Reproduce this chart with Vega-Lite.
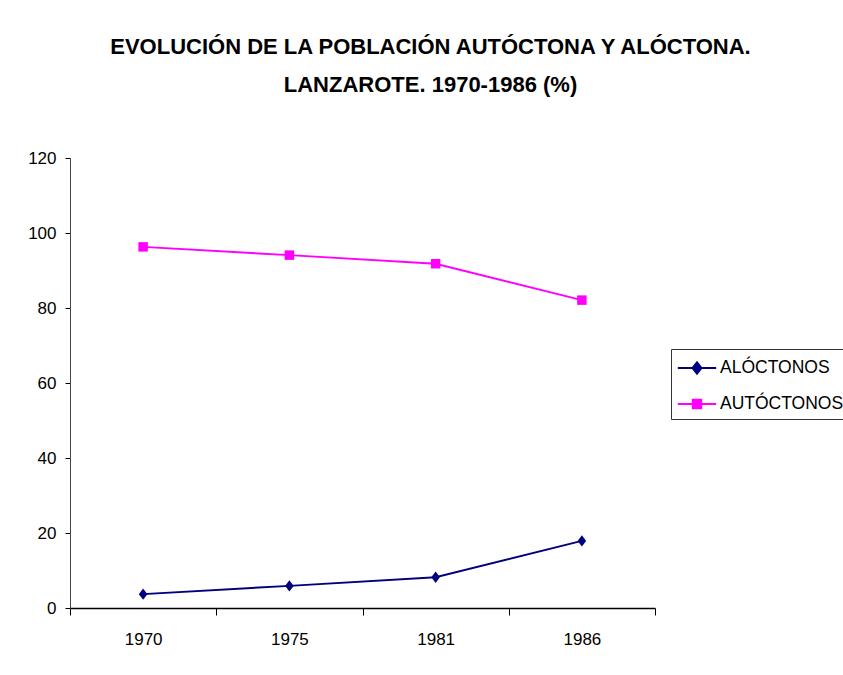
{
  "$schema": "https://vega.github.io/schema/vega-lite/v6.json",
  "autosize": {"type": "none"},
  "padding": {"left": 70, "top": 158, "right": 188, "bottom": 67},
  "width": 585,
  "height": 450,
  "background": "white",
  "title": {
    "text": ["EVOLUCIÓN DE LA POBLACIÓN AUTÓCTONA Y ALÓCTONA.", "LANZAROTE. 1970-1986 (%)"],
    "font": "Liberation Sans",
    "fontSize": 22,
    "fontWeight": "bold",
    "color": "black",
    "anchor": "middle",
    "dx": 68,
    "lineHeight": 38,
    "offset": 52
  },
  "data": {
    "values": [
      {"year": "1970", "serie": "ALÓCTONOS", "value": 3.7},
      {"year": "1975", "serie": "ALÓCTONOS", "value": 5.9},
      {"year": "1981", "serie": "ALÓCTONOS", "value": 8.2},
      {"year": "1986", "serie": "ALÓCTONOS", "value": 17.9},
      {"year": "1970", "serie": "AUTÓCTONOS", "value": 96.3},
      {"year": "1975", "serie": "AUTÓCTONOS", "value": 94.1},
      {"year": "1981", "serie": "AUTÓCTONOS", "value": 91.8},
      {"year": "1986", "serie": "AUTÓCTONOS", "value": 82.1}
    ]
  },
  "encoding": {
    "x": {
      "field": "year", "type": "ordinal",
      "scale": {"type": "band", "paddingInner": 0, "paddingOuter": 0},
      "axis": {
        "title": null, "labelAngle": 0, "tickBand": "extent",
        "labelFont": "Liberation Sans", "labelFontSize": 17, "labelColor": "black",
        "domainColor": "black", "domainWidth": 1.5, "tickColor": "black", "tickSize": 7, "tickWidth": 1,
        "labelPadding": 16, "grid": false
      }
    },
    "y": {
      "field": "value", "type": "quantitative",
      "scale": {"domain": [0, 120], "nice": false},
      "axis": {
        "title": null, "values": [0, 20, 40, 60, 80, 100, 120],
        "labelFont": "Liberation Sans", "labelFontSize": 17, "labelColor": "black",
        "domainColor": "#444", "domainWidth": 1, "tickColor": "black", "tickSize": 5,
        "labelPadding": 9, "grid": false
      }
    }
  },
  "layer": [
    {
      "mark": {"type": "line", "strokeWidth": 2},
      "encoding": {
        "stroke": {
          "field": "serie", "type": "nominal",
          "scale": {"domain": ["ALÓCTONOS", "AUTÓCTONOS"], "range": ["#000080", "#FF00FF"]},
          "legend": null
        }
      }
    },
    {
      "mark": {"type": "point", "filled": false, "opacity": 1, "strokeWidth": 2},
      "encoding": {
        "size": {"value": 1},
        "color": {
          "field": "serie", "type": "nominal",
          "scale": {"domain": ["ALÓCTONOS", "AUTÓCTONOS"], "range": ["#000080", "#FF00FF"]},
          "legend": {
            "title": null, "orient": "none", "legendX": 601, "legendY": 191,
            "strokeColor": "#333", "fillColor": "white", "padding": 6,
            "labelFont": "Liberation Sans", "labelFontSize": 17.5, "labelColor": "black",
            "symbolOffset": 7, "labelOffset": 10, "symbolSize": 576, "symbolStrokeWidth": 2, "symbolOpacity": 1,
            "rowPadding": 13, "labelLimit": 300
          }
        },
        "shape": {
          "field": "serie", "type": "nominal",
          "scale": {"domain": ["ALÓCTONOS", "AUTÓCTONOS"], "range": [
            "M-1.6,0L1.6,0M0,-0.475L0.375,0L0,0.475L-0.375,0ZM0,-0.333L0.263,0L0,0.333L-0.263,0ZM0,-0.19L0.15,0L0,0.19L-0.15,0ZM0,-0.1L0,0.1",
            "M-1.6,0L1.6,0M-0.35,-0.35L0.35,-0.35L0.35,0.35L-0.35,0.35ZM-0.25,-0.25L0.25,-0.25L0.25,0.25L-0.25,0.25ZM-0.15,-0.15L0.15,-0.15L0.15,0.15L-0.15,0.15ZM-0.05,-0.05L0.05,-0.05L0.05,0.05L-0.05,0.05Z"
          ]},
          "legend": {
            "title": null, "orient": "none", "legendX": 601, "legendY": 191,
            "strokeColor": "#333", "fillColor": "white", "padding": 6,
            "labelFont": "Liberation Sans", "labelFontSize": 17.5, "labelColor": "black",
            "symbolOffset": 7, "labelOffset": 10, "symbolSize": 576, "symbolStrokeWidth": 2, "symbolOpacity": 1,
            "rowPadding": 13, "labelLimit": 300
          }
        }
      }
    },
    {
      "mark": {"type": "point", "filled": true, "opacity": 1},
      "encoding": {
        "fill": {
          "field": "serie", "type": "nominal",
          "scale": {"domain": ["ALÓCTONOS", "AUTÓCTONOS"], "range": ["#000080", "#FF00FF"]},
          "legend": null
        },
        "shape": {
          "field": "serie", "type": "nominal",
          "scale": {"domain": ["ALÓCTONOS", "AUTÓCTONOS"], "range": ["M0,-1.2L0.9,0L0,1.2L-0.9,0Z", "square"]},
          "legend": null
        },
        "size": {"value": 90}
      }
    }
  ],
  "resolve": {"scale": {"shape": "independent", "color": "independent"}},
  "config": {
    "view": {"stroke": null},
    "font": "Liberation Sans"
  }
}
